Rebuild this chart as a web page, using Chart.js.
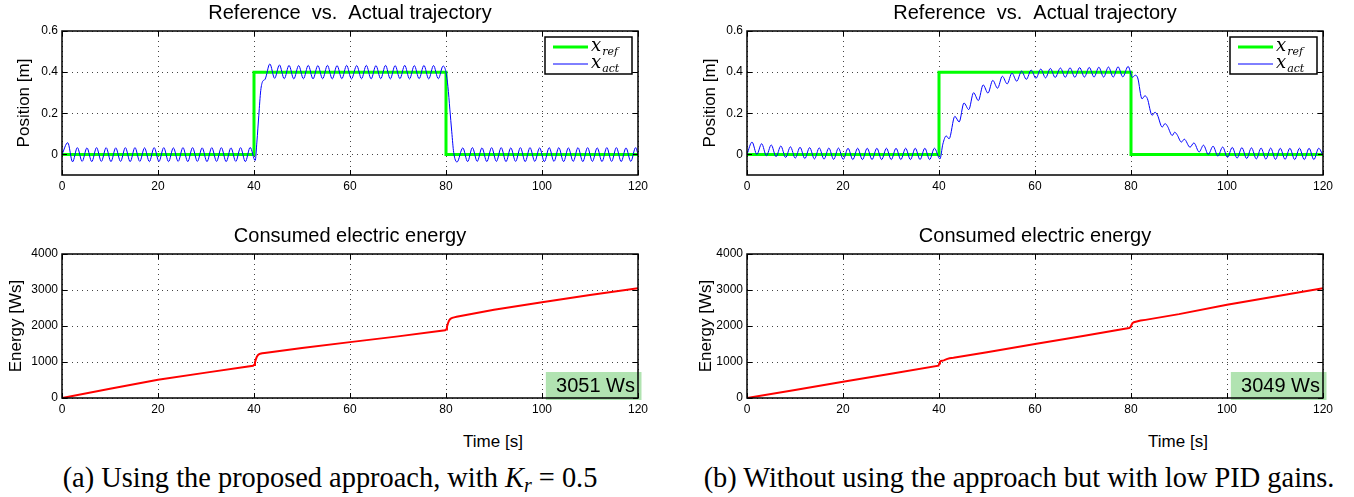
<!DOCTYPE html>
<html>
<head>
<meta charset="utf-8">
<script src="https://cdn.jsdelivr.net/npm/chart.js@4.4.1/dist/chart.umd.min.js"></script>
<style>
  body { margin: 0; background: #fff; }
  #fig { position: relative; width: 1354px; height: 497px; overflow: hidden; font-family: "Liberation Sans", Arial, sans-serif; }
  #fig canvas { position: absolute; }
  .xlabel { position: absolute; top: 432px; font-size: 17px; line-height: 20px; transform: translateX(-50%); white-space: nowrap; color: #000; }
  .caption { position: absolute; top: 462px; font-family: "Liberation Serif", "Times New Roman", serif; font-size: 28.4px; line-height: 32px; transform: translateX(-50%); white-space: nowrap; color: #000; }
  .caption sub { font-size: 20px; vertical-align: -5px; line-height: 0; }
</style>
</head>
<body>
<div id="fig">
  <canvas id="posA" width="677" height="200" style="left:0;top:0"></canvas>
  <canvas id="posB" width="674" height="200" style="left:680px;top:0"></canvas>
  <canvas id="enA" width="677" height="200" style="left:0;top:223px"></canvas>
  <canvas id="enB" width="674" height="200" style="left:680px;top:223px"></canvas>
  <div class="xlabel" style="left:493px">Time [s]</div>
  <div class="xlabel" style="left:1178px">Time [s]</div>
  <div class="caption" style="left:330px">(a) Using the proposed approach, with <i>K</i><sub><i>r</i></sub> = 0.5</div>
  <div class="caption" style="left:1019px">(b) Without using the approach but with low PID gains.</div>
</div>
<script>
/* ---------- data ---------- */

const tickTime = [0, 20, 40, 60, 80, 100, 120];
const tickPos = [0, 0.2, 0.4, 0.6];
const tickEnergy = [0, 1000, 2000, 3000, 4000];

// reference trajectory (same for both cases)
const tRef = [0, 40, 40, 80, 80, 120];
const xRef = [0, 0, 0.4, 0.4, 0, 0];

// (a) actual position, proposed approach
const tActA = [
    0, 1.2, 2.2, 3.2, 4.2, 5.2, 6.2, 7.2, 8.2, 9.2,
    10.2, 11.2, 12.2, 13.2, 14.2, 15.2, 16.2, 17.2, 18.2, 19.2,
    20.2, 21.2, 22.2, 23.2, 24.2, 25.2, 26.2, 27.2, 28.2, 29.2,
    30.2, 31.2, 32.2, 33.2, 34.2, 35.2, 36.2, 37.2, 38.2, 39.2,
    40.25, 40.6, 41.0, 41.4, 41.8, 42.3, 43.3, 44.3, 45.3, 46.3,
    47.3, 48.3, 49.3, 50.3, 51.3, 52.3, 53.3, 54.3, 55.3, 56.3,
    57.3, 58.3, 59.3, 60.3, 61.4, 62.4, 63.4, 64.4, 65.4, 66.4,
    67.4, 68.4, 69.4, 70.4, 71.4, 72.4, 73.4, 74.4, 75.4, 76.4,
    77.4, 78.4, 79.4, 80.0, 80.4, 80.8, 81.2, 81.6, 82.3, 83.5,
    84.5, 85.5, 86.5, 87.5, 88.5, 89.5, 90.5, 91.5, 92.5, 93.5,
    94.5, 95.5, 96.5, 97.5, 98.5, 99.5, 100.5, 101.5, 102.5, 103.5,
    104.5, 105.5, 106.5, 107.5, 108.5, 109.5, 110.5, 111.5, 112.5, 113.5,
    114.5, 115.5, 116.5, 117.5, 118.5, 119.5, 120
];
const xActA = [
    0, 0.057, -0.036, 0.033, -0.034, 0.032, -0.035, 0.033, -0.034, 0.033,
    -0.035, 0.032, -0.034, 0.033, -0.035, 0.033, -0.034, 0.032, -0.035, 0.033,
    -0.034, 0.033, -0.035, 0.032, -0.034, 0.033, -0.035, 0.033, -0.034, 0.032,
    -0.035, 0.033, -0.034, 0.033, -0.035, 0.032, -0.034, 0.033, -0.035, 0.034,
    -0.03, 0.06, 0.19, 0.31, 0.355, 0.365, 0.44, 0.37, 0.435, 0.368,
    0.433, 0.367, 0.432, 0.368, 0.433, 0.367, 0.432, 0.368, 0.433, 0.367,
    0.432, 0.368, 0.433, 0.367, 0.432, 0.368, 0.433, 0.367, 0.432, 0.368,
    0.433, 0.367, 0.432, 0.368, 0.433, 0.367, 0.432, 0.368, 0.433, 0.367,
    0.432, 0.368, 0.43, 0.40, 0.33, 0.22, 0.11, 0.01, -0.037, 0.032,
    -0.035, 0.033, -0.034, 0.032, -0.035, 0.033, -0.034, 0.033, -0.035, 0.032,
    -0.034, 0.033, -0.035, 0.033, -0.034, 0.032, -0.035, 0.033, -0.034, 0.033,
    -0.035, 0.032, -0.034, 0.033, -0.035, 0.033, -0.034, 0.032, -0.035, 0.033,
    -0.034, 0.033, -0.035, 0.032, -0.034, 0.033, 0.0
];

// (b) actual position, low PID gains
const tActB = [
    0, 1.05, 2.05, 3.05, 4.05, 5.05, 6.05, 7.05, 8.05, 9.05,
    10.05, 11.05, 12.05, 13.05, 14.05, 15.05, 16.05, 17.05, 18.05, 19.05,
    20.05, 21.05, 22.05, 23.05, 24.05, 25.05, 26.05, 27.05, 28.05, 29.05,
    30.05, 31.05, 32.05, 33.05, 34.05, 35.05, 36.05, 37.05, 38.05, 39.05,
    40.2, 40.8, 41.5, 42.1, 43.3, 44.2, 45.2, 46.2, 47.2, 48.2,
    49.2, 50.2, 51.2, 52.2, 53.2, 54.2, 55.2, 56.2, 57.2, 58.2,
    59.2, 60.2, 61.2, 62.2, 63.2, 64.2, 65.3, 66.3, 67.3, 68.3,
    69.3, 70.3, 71.3, 72.3, 73.3, 74.3, 75.3, 76.3, 77.3, 78.3,
    79.4, 80.3, 80.9, 81.4, 82.3, 82.9, 83.4, 84.4, 85.0, 85.5,
    86.5, 87.1, 87.6, 88.6, 89.1, 89.6, 90.5, 91.1, 92.3, 93.1,
    94.2, 95.1, 96.1, 97.1, 98.1, 99.1, 100.1, 101.1, 102.1, 103.1,
    104.1, 105.1, 106.1, 107.1, 108.1, 109.1, 110.1, 111.1, 112.1, 113.1,
    114.1, 115.1, 116.1, 117.1, 118.1, 119.1, 120
];
const xActB = [
    0, 0.06, 0.0, 0.052, -0.006, 0.046, -0.011, 0.041, -0.015, 0.037,
    -0.018, 0.035, -0.02, 0.033, -0.022, 0.032, -0.023, 0.031, -0.024, 0.031,
    -0.024, 0.03, -0.025, 0.03, -0.025, 0.03, -0.025, 0.03, -0.025, 0.03,
    -0.025, 0.03, -0.025, 0.03, -0.025, 0.03, -0.025, 0.03, -0.025, 0.03,
    -0.022, 0.05, 0.09, 0.076, 0.185, 0.158, 0.25, 0.218, 0.30, 0.262,
    0.338, 0.298, 0.36, 0.322, 0.38, 0.343, 0.395, 0.356, 0.405, 0.365,
    0.41, 0.37, 0.415, 0.372, 0.418, 0.374, 0.42, 0.375, 0.421, 0.375,
    0.422, 0.376, 0.423, 0.376, 0.424, 0.376, 0.425, 0.376, 0.426, 0.377,
    0.428, 0.375, 0.385, 0.372, 0.27, 0.285, 0.272, 0.19, 0.205, 0.192,
    0.133, 0.15, 0.137, 0.092, 0.108, 0.096, 0.06, 0.074, 0.035, 0.056,
    0.012, 0.045, 0.0, 0.04, -0.008, 0.036, -0.014, 0.034, -0.018, 0.033,
    -0.02, 0.032, -0.022, 0.031, -0.023, 0.031, -0.024, 0.03, -0.024, 0.03,
    -0.025, 0.03, -0.025, 0.03, -0.025, 0.03, -0.005
];

// consumed electric energy [Ws]
const tEnA = [0, 10, 20, 30, 39.8, 40.0, 40.2, 40.4, 40.6, 40.8, 41.0, 41.3, 41.7, 42.2, 50, 60, 70,
              79.8, 80.0, 80.2, 80.4, 80.6, 80.8, 81.0, 81.3, 81.7, 82.2, 90, 100, 110, 120];
const enA = [0, 255, 505, 705, 895, 920, 990, 1080, 1150, 1190, 1210, 1230, 1242, 1252, 1386, 1552, 1712,
             1880, 1905, 1980, 2070, 2140, 2180, 2205, 2225, 2240, 2255, 2449, 2661, 2860, 3051];
const tEnB = [0, 10, 20, 30, 39.9, 40.05, 40.2, 40.4, 41, 41.6, 42.2, 43, 50, 60, 70,
              79.6, 79.9, 80.1, 80.3, 80.6, 81, 82, 83, 90, 100, 110, 120];
const enB = [0, 225, 450, 675, 897, 960, 1010, 1030, 1045, 1080, 1105, 1118, 1270, 1500, 1725,
             1945, 1965, 2030, 2080, 2105, 2120, 2150, 2170, 2330, 2590, 2820, 3049];

/* ---------- helpers / plugins ---------- */

Chart.defaults.font.family = '"Liberation Sans", Arial, sans-serif';
Chart.defaults.color = '#000';

const pts = (xs, ys) => xs.map((x, i) => ({ x: x, y: ys[i] }));

// matlab style box with inward ticks
const framePlugin = {
    id: 'frame',
    afterDatasetsDraw(chart) {
        const { ctx, chartArea: a, scales: { x, y } } = chart;
        ctx.save();
        ctx.strokeStyle = '#000';
        ctx.lineWidth = 1;
        ctx.beginPath();
        x.ticks.forEach(t => {
            const px = Math.round(x.getPixelForValue(t.value)) + 0.5;
            ctx.moveTo(px, a.bottom); ctx.lineTo(px, a.bottom - 5);
            ctx.moveTo(px, a.top); ctx.lineTo(px, a.top + 5);
        });
        y.ticks.forEach(t => {
            const py = Math.round(y.getPixelForValue(t.value)) + 0.5;
            ctx.moveTo(a.left, py); ctx.lineTo(a.left + 5, py);
            ctx.moveTo(a.right, py); ctx.lineTo(a.right - 5, py);
        });
        ctx.stroke();
        ctx.lineWidth = 1.5;
        ctx.strokeRect(a.left, a.top, a.right - a.left, a.bottom - a.top);
        ctx.restore();
    }
};

// boxed legend in the upper right corner, labels like "x_ref"
const boxLegendPlugin = {
    id: 'boxLegend',
    afterDraw(chart, args, opts) {
        if (!opts.show) return;
        const { ctx, chartArea: a } = chart;
        const L = a.right - 93, T = a.top + 6, W = 87, H = 37;
        ctx.save();
        ctx.fillStyle = '#fff';
        ctx.fillRect(L, T, W, H);
        ctx.lineWidth = 1.5;
        ctx.strokeStyle = '#000';
        ctx.strokeRect(L, T, W, H);
        chart.data.datasets.forEach((ds, i) => {
            const yy = T + 10 + i * 17;
            ctx.strokeStyle = ds.borderColor;
            ctx.lineWidth = ds.borderWidth;
            ctx.beginPath();
            ctx.moveTo(L + 8, yy);
            ctx.lineTo(L + 43, yy);
            ctx.stroke();
            const parts = ds.label.split('_');
            ctx.fillStyle = '#000';
            ctx.textBaseline = 'alphabetic';
            ctx.font = 'italic 18px "DejaVu Serif", serif';
            ctx.fillText(parts[0], L + 46, yy + 4);
            const w = ctx.measureText(parts[0]).width;
            ctx.font = 'italic 11px "DejaVu Serif", serif';
            ctx.fillText(parts[1], L + 47 + w, yy + 8);
        });
        ctx.restore();
    }
};

// green tag with the final energy value
const endValuePlugin = {
    id: 'endValue',
    beforeDatasetsDraw(chart, args, opts) {
        if (!opts.text) return;
        const { ctx, chartArea: a, scales: { x } } = chart;
        const L = x.getPixelForValue(opts.from);
        ctx.save();
        ctx.fillStyle = '#b1e3b1';
        ctx.fillRect(L, a.bottom - 26, a.right + 3.5 - L, 28);
        ctx.fillStyle = '#000';
        ctx.font = '20px "Liberation Sans", Arial, sans-serif';
        ctx.textAlign = 'right';
        ctx.textBaseline = 'middle';
        ctx.fillText(opts.text, a.right - 3, a.bottom - 12);
        ctx.restore();
    }
};

function makeChart(id, o) {
    const gridLine = { color: '#444', lineWidth: 1, drawTicks: false };
    return new Chart(document.getElementById(id), {
        type: 'line',
        data: { datasets: o.datasets },
        options: {
            responsive: false,
            animation: false,
            events: [],
            layout: { padding: { left: 0, right: o.padRight, top: 0, bottom: 0 } },
            elements: { point: { radius: 0 } },
            scales: {
                x: {
                    type: 'linear', min: 0, max: 120,
                    afterBuildTicks: s => { s.ticks = tickTime.map(v => ({ value: v })); },
                    afterFit: s => { s.height = 25; },
                    grid: gridLine,
                    border: { display: false, dash: [1, 4] },
                    ticks: { font: { size: 12 }, padding: 4, maxRotation: 0, autoSkip: false, callback: v => String(v) }
                },
                y: {
                    type: 'linear', min: o.yMin, max: o.yMax,
                    afterBuildTicks: s => { s.ticks = o.yTicks.map(v => ({ value: v })); },
                    afterFit: s => { s.width = o.yWidth; },
                    grid: gridLine,
                    border: { display: false, dash: [1, 4] },
                    ticks: { font: { size: 12 }, padding: 4, callback: v => String(v) },
                    title: { display: true, text: o.yTitle, font: { size: 17 }, padding: { top: o.yTitlePad, bottom: 0 } }
                }
            },
            plugins: {
                legend: { display: false },
                tooltip: { enabled: false },
                title: {
                    display: true, text: o.title, fullSize: false,
                    font: { size: 20, weight: 'normal' },
                    padding: { top: 1, bottom: 6 }
                },
                boxLegend: { show: !!o.legend },
                endValue: { text: o.tag || null, from: 100.8 }
            }
        },
        plugins: [framePlugin, boxLegendPlugin, endValuePlugin]
    });
}

function positionSets(tAct, xAct) {
    return [
        { label: 'x_ref', data: pts(tRef, xRef), borderColor: '#00ff00', borderWidth: 3, tension: 0, order: 1 },
        { label: 'x_act', data: pts(tAct, xAct), borderColor: '#0000ff', borderWidth: 1, cubicInterpolationMode: 'monotone', order: 0 }
    ];
}

function energySet(tEn, en) {
    return [{ label: 'E', data: pts(tEn, en), borderColor: '#ff0000', borderWidth: 2, tension: 0 }];
}

const posTitle = 'Reference  vs.  Actual trajectory';
const enTitle = 'Consumed electric energy';

makeChart('posA', { datasets: positionSets(tActA, xActA), title: posTitle, yTitle: 'Position [m]', yMin: -0.1, yMax: 0.6, yTicks: tickPos, yWidth: 62, yTitlePad: 14, padRight: 39, legend: true });
makeChart('posB', { datasets: positionSets(tActB, xActB), title: posTitle, yTitle: 'Position [m]', yMin: -0.1, yMax: 0.6, yTicks: tickPos, yWidth: 67, yTitlePad: 20.5, padRight: 31, legend: true });
makeChart('enA', { datasets: energySet(tEnA, enA), title: enTitle, yTitle: 'Energy [Ws]', yMin: 0, yMax: 4000, yTicks: tickEnergy, yWidth: 62, yTitlePad: 6, padRight: 39, tag: enA[enA.length - 1] + ' Ws' });
makeChart('enB', { datasets: energySet(tEnB, enB), title: enTitle, yTitle: 'Energy [Ws]', yMin: 0, yMax: 4000, yTicks: tickEnergy, yWidth: 67, yTitlePad: 16, padRight: 31, tag: enB[enB.length - 1] + ' Ws' });
</script>
</body>
</html>
